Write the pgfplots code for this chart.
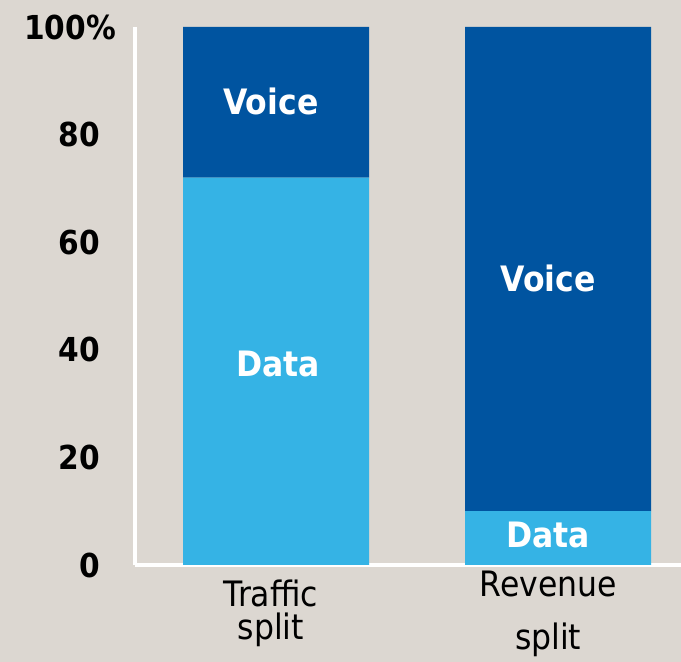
\documentclass[border=0pt]{standalone}
\usepackage{fontspec}
\setmainfont{DejaVu Sans Condensed}
\usepackage{pgfplots}
\pgfplotsset{compat=1.18}
\definecolor{bg}{HTML}{DCD7D1}
\definecolor{lb}{HTML}{35B3E5}
\definecolor{db}{HTML}{0054A0}
\begin{document}
\begin{tikzpicture}
\path[use as bounding box, fill=bg] (0,0) rectangle (681pt,662pt);
\begin{axis}[
 at={(135pt,97pt)}, anchor=south west,
 scale only axis, width=546pt, height=538pt,
 xmin=-0.5, xmax=1.436, ymin=0, ymax=100,
 ybar stacked, bar width=186pt,
 axis x line=bottom, axis y line=left,
 axis line style={white, line width=4pt, -},
 xtick=\empty,
 ytick={0,20,40,60,80},
 major tick length=0pt,
 yticklabel style={font=\fontsize{33}{35}\selectfont\bfseries, inner sep=0pt, xshift=-35pt},
 extra y ticks={100}, extra y tick labels={100\%},
 extra y tick style={yticklabel style={xshift=16pt}},
 clip=false,
 /pgf/number format/assume math mode=true,
]
\addplot[fill=lb, draw=none] coordinates {(0,72) (1,10)};
\addplot[fill=db, draw=none] coordinates {(0,28) (1,90)};
\coordinate (v1) at (axis cs:-0.018,86.1);
\coordinate (d1) at (axis cs:0.007,37.4);
\coordinate (v2) at (axis cs:0.965,53.3);
\coordinate (d2) at (axis cs:0.965,5.6);
\coordinate (c1) at (axis cs:-0.018,0);
\coordinate (c2) at (axis cs:0.965,0);
\end{axis}
\begin{scope}[every node/.style={white, font=\fontsize{35}{37}\selectfont\bfseries}]
\node at (v1) {Voice};
\node at (d1) {Data};
\node at (v2) {Voice};
\node at (d2) {Data};
\end{scope}
\begin{scope}[every node/.style={anchor=base, font=\fontsize{35}{37}\selectfont, inner sep=0pt}]
\node at ([yshift=-42pt]c1) {Traffic};
\node at ([yshift=-75pt]c1) {split};
\node at ([yshift=-32pt]c2) {Revenue};
\node at ([yshift=-85pt]c2) {split};
\end{scope}
\end{tikzpicture}
\end{document}
